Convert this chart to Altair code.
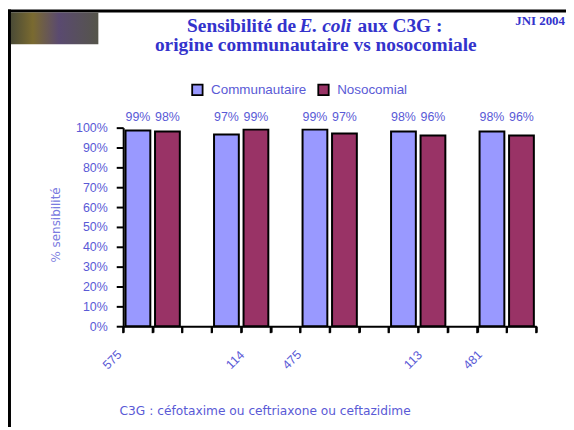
import altair as alt
import pandas as pd

# ---- data ----
n_labels = ["575", "114", "475", "113", "481"]
n_label_slot = [-0.37, 3.80, 5.72, 9.83, 11.85]
communautaire = [98.6, 96.6, 99, 98, 98]
nosocomial = [98, 99, 97, 96, 96]
series = ["Communautaire", "Nosocomial"]
colors = ["#9999ff", "#993366"]
y_ticks = list(range(0, 101, 10))
slot_ticks = list(range(0, 15))

TITLE_C = "#3333cc"
LAB_C = "#5a5ad6"
LIGHT_C = "#7b7be0"

rows = []
for g, (c, n) in enumerate(zip(communautaire, nosocomial)):
    rows.append({"group": g, "series": series[0], "k": 0, "value": c})
    rows.append({"group": g, "series": series[1], "k": 1, "value": n})
df = pd.DataFrame(rows)
n_df = pd.DataFrame({"label": n_labels, "pos": n_label_slot})
tick_df = pd.DataFrame({"slot": slot_ticks})

xscale = alt.Scale(domain=[0, 14], nice=False, zero=False)
yscale = alt.Scale(domain=[0, 100], nice=False)

base = (
    alt.Chart(df)
    .transform_calculate(slot="3*datum.group + datum.k")
    .transform_calculate(x0="datum.slot + 0.08")
    .transform_calculate(x1="datum.slot + 0.92")
    .transform_calculate(xc="datum.slot + 0.5")
    .transform_calculate(label="format(datum.value, '.0f') + '%'")
)

x_axis = alt.Axis(
    values=slot_ticks, labels=False, title=None, grid=False, ticks=True,
    domainColor="black", domainWidth=2, tickColor="black", tickOpacity=1,
    tickWidth=2, tickSize=6,
)

bars = base.mark_rect(stroke="black", strokeWidth=2).encode(
    x=alt.X("x0:Q", scale=xscale, axis=x_axis),
    x2="x1:Q",
    y=alt.Y(
        "value:Q",
        scale=yscale,
        axis=alt.Axis(
            values=y_ticks, labelExpr="datum.value + '%'", title=None,
            grid=False, domainColor="black", domainWidth=2,
            tickColor="black", tickWidth=2, tickSize=7, labelPadding=9,
            labelFont="Liberation Sans", labelFontSize=12.5, labelColor=LAB_C,
        ),
    ),
    y2=alt.datum(0),
    color=alt.Color(
        "series:N",
        scale=alt.Scale(domain=series, range=colors),
        legend=alt.Legend(
            orient="none", legendX=68, legendY=-45, direction="horizontal",
            title=None, symbolType="square", symbolSize=110,
            symbolStrokeColor="black", symbolStrokeWidth=1.8,
            labelFont="Liberation Sans", labelFontSize=13.5, labelColor=LAB_C,
            labelOffset=7, columnPadding=7, padding=0,
        ),
    ),
)

x_ticks = alt.Chart(tick_df).mark_rule(color="black", strokeWidth=2).encode(
    x=alt.X("slot:Q", scale=xscale, axis=x_axis),
    y=alt.value(200),
    y2=alt.value(207),
)

val_labels = base.mark_text(
    font="Liberation Sans", fontSize=12.5, color=LAB_C, baseline="alphabetic"
).encode(
    x=alt.X("xc:Q", scale=xscale, axis=x_axis),
    y=alt.value(-7),
    text="label:N",
)

n_text = alt.Chart(n_df).mark_text(
    font="Liberation Sans", fontSize=12.5, color=LAB_C, angle=315,
    align="center", baseline="middle",
).encode(
    x=alt.X("pos:Q", scale=xscale, axis=x_axis),
    y=alt.value(234),
    text="label:N",
)

one = alt.Data(values=[{}])

def txt(text, x, y, **kw):
    return alt.Chart(one).mark_text(text=text, **kw).encode(
        x=alt.value(x), y=alt.value(y)
    )

title_kw = dict(font="Liberation Serif", fontSize=19.5, fontWeight="bold",
                color=TITLE_C, baseline="alphabetic")
t1a = txt("Sensibilité de", 64.3, -96.2, align="left", **title_kw)
t1b = txt("E. coli", 177.7, -96.2, align="left", fontStyle="italic", **title_kw)
t1c = txt("aux C3G :", 236, -96.2, align="left", **title_kw)
t2 = txt("origine communautaire vs nosocomiale", 194, -77, align="center", **title_kw)
jni = txt("JNI 2004", 445, -103, align="right", font="Liberation Serif",
          fontSize=13, fontWeight="bold", color=TITLE_C, baseline="alphabetic")
foot = txt("C3G : céfotaxime ou ceftriaxone ou ceftazidime", 143, 289,
           align="center", font="DejaVu Sans", fontSize=12.3, color=LAB_C,
           baseline="alphabetic")
ytitle = txt("% sensibilité", -68, 98, align="center", angle=270,
             font="DejaVu Sans", fontSize=12, color=LIGHT_C, baseline="middle")

top_border = alt.Chart(one).mark_rule(color="black", strokeWidth=3).encode(
    x=alt.value(-116), x2=alt.value(460), y=alt.value(-117.5)
)
left_border = alt.Chart(one).mark_rule(color="black", strokeWidth=3).encode(
    x=alt.value(-114.5), y=alt.value(-119), y2=alt.value(310)
)
logo = alt.Chart(one).mark_rect(
    color=alt.Gradient(
        gradient="linear",
        stops=[
            alt.GradientStop(color="#4b4b36", offset=0),
            alt.GradientStop(color="#7a6a30", offset=0.25),
            alt.GradientStop(color="#5a4a70", offset=0.55),
            alt.GradientStop(color="#55554a", offset=1),
        ],
        x1=0, x2=1, y1=0, y2=0,
    )
).encode(
    x=alt.value(-113), x2=alt.value(-25), y=alt.value(-116), y2=alt.value(-84)
)

chart = (
    alt.layer(
        bars, x_ticks, val_labels, n_text, t1a, t1b, t1c, t2, jni, foot, ytitle,
        top_border, left_border, logo,
    )
    .properties(
        width=416, height=200,
        padding={"left": 116, "top": 119, "right": 30, "bottom": 100},
        autosize="none",
    )
    .configure_view(stroke=None)
)

chart.save("out.html", embed_options={"renderer": "svg", "actions": False})
